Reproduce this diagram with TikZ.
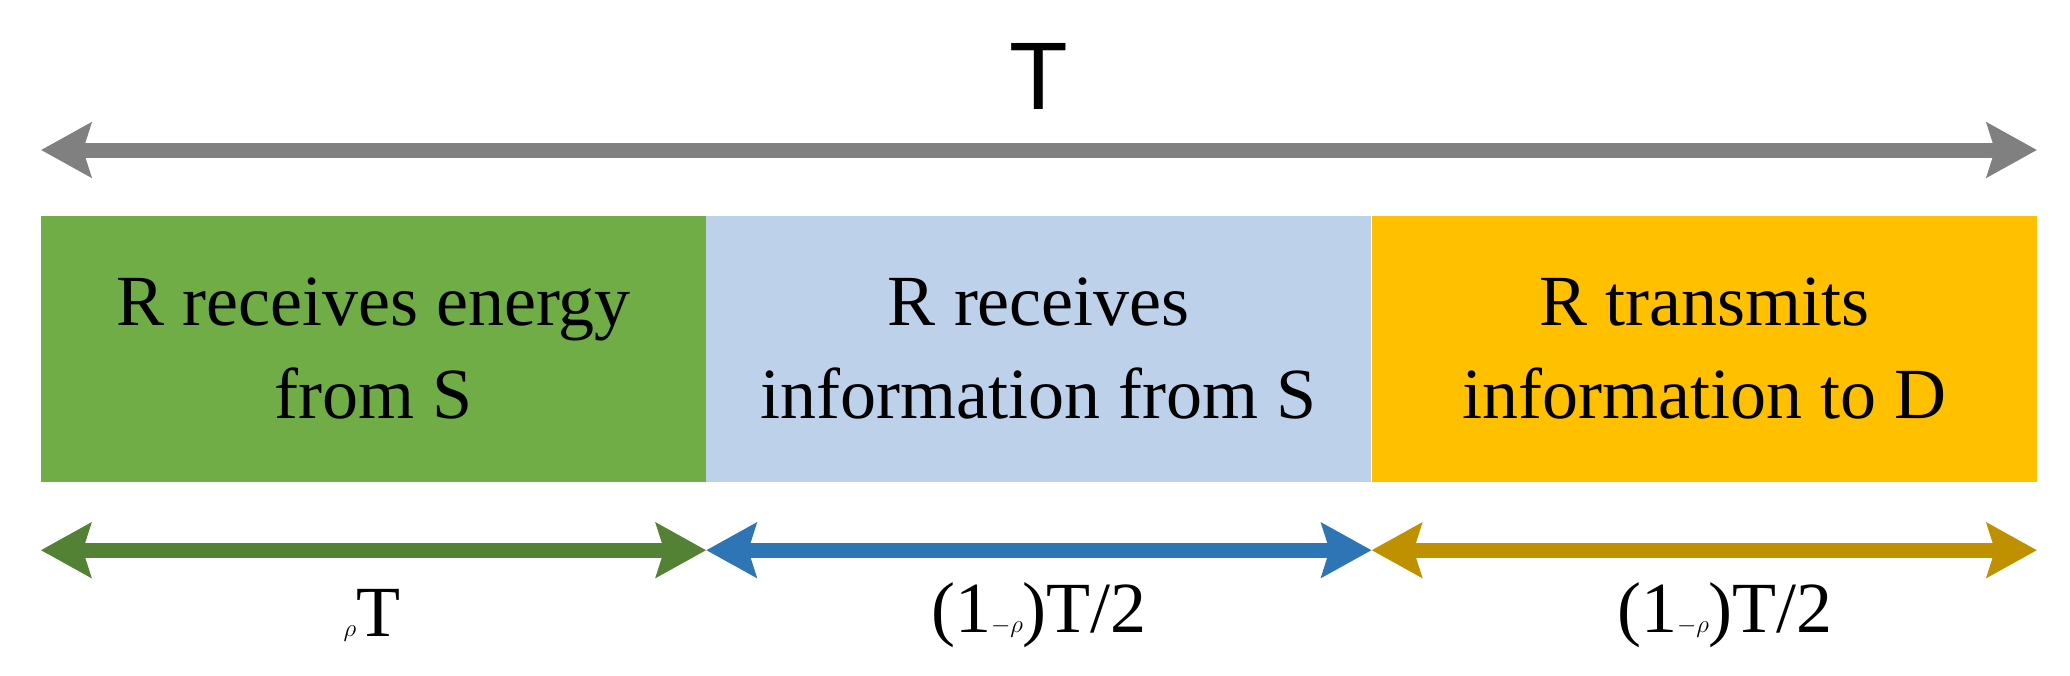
\documentclass[tikz,border=0pt]{standalone}
\usepackage{fontspec}
\setmainfont{Liberation Serif}
\newfontfamily\labelsans{Liberation Sans}
\usetikzlibrary{positioning}
\usetikzlibrary{arrows.meta}
\definecolor{phaseGreen}{HTML}{70AD47}
\definecolor{phaseBlue}{HTML}{BDD1EA}
\definecolor{phaseGold}{HTML}{FFC000}
\definecolor{spanGreen}{HTML}{548235}
\definecolor{spanBlue}{HTML}{2E75B6}
\definecolor{spanGold}{HTML}{BF9000}
\definecolor{spanGray}{HTML}{808080}
\tikzset{
  phase/.style={rectangle, minimum width=665pt, minimum height=266pt, inner sep=0pt,
    align=center, font=\fontsize{72}{93}\selectfont},
  span/.style={line width=15pt, {Stealth[inset=8pt, length=50pt, width=54pt]}-{Stealth[inset=8pt, length=50pt, width=54pt]}},
  spanlabel/.style={font=\fontsize{72}{86}\selectfont}
}
\begin{document}
\begin{tikzpicture}[x=1pt, y=-1pt]

  % page frame
  \useasboundingbox (0, 0) rectangle (2070, 675);

  % phases
  \node (energy) [phase, fill=phaseGreen] at (373.5, 349) {R receives energy\\from S};
  \node (receive) [phase, fill=phaseBlue, right=0pt of energy] {R receives\\information from S};
  \node (transmit) [phase, fill=phaseGold, right=0pt of receive] {R transmits\\information to D};

  % whole frame
  \coordinate (totL) at (41, 150);
  \coordinate (totR) at (2037, 150);
  \draw [span, spanGray] (totL) -- (totR);
  \node (total) at (1039, 76) {\labelsans\fontsize{96}{110}\selectfont T};

  % phase spans
  \coordinate (s0) at ([yshift=-68pt] energy.south west);
  \coordinate (s1) at ([yshift=-68pt] receive.south west);
  \coordinate (s2) at ([yshift=-68pt] transmit.south west);
  \coordinate (s3) at ([yshift=-68pt] transmit.south east);
  \draw [span, spanGreen] (s0) -- (s1);
  \draw [span, spanBlue] (s1) -- (s2);
  \draw [span, spanGold] (s2) -- (s3);

  \node (rhoT) [spanlabel] at (372, 615) {$\rho$T};
  \node (halfA) [spanlabel] at (1039, 615) {(1$-\rho$)T/2};
  \node (halfB) [spanlabel] at (1725, 615) {(1$-\rho$)T/2};

\end{tikzpicture}
\end{document}
